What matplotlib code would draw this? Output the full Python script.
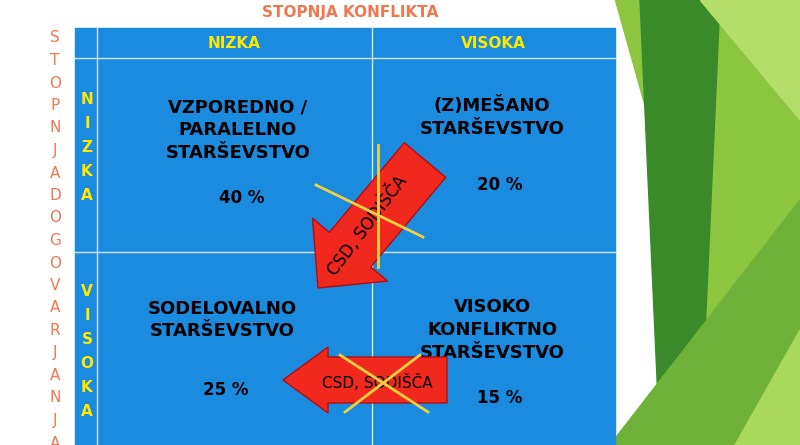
import matplotlib.pyplot as plt
from matplotlib.patches import Polygon, Rectangle
import numpy as np

# Podatki
title = 'STOPNJA KONFLIKTA'
col_labels = ['NIZKA', 'VISOKA']
row_labels = ['NIZKA', 'VISOKA']
side_title = 'STOPNJADOGOVARJANJA'
cell_names = [['VZPOREDNO /\nPARALELNO\nSTARŠEVSTVO', '(Z)MEŠANO\nSTARŠEVSTVO'],
              ['SODELOVALNO\nSTARŠEVSTVO', 'VISOKO\nKONFLIKTNO\nSTARŠEVSTVO']]
cell_pct = [[40, 20], [25, 15]]
arrow_text = 'CSD, SODIŠČA'

BLUE = '#1b8be0'
YELLOW = '#ffe800'
ORANGE = '#f07850'
RED = '#f0281e'

fig = plt.figure(figsize=(8, 4.45), dpi=100)
ax = fig.add_axes([0, 0, 1, 1])
ax.set_xlim(0, 800)
ax.set_ylim(445, 0)
ax.axis('off')

# zeleni okraski desno
greens = [
    ([(615, 0), (800, 0), (800, 445), (740, 445)], '#8cc63f'),
    ([(640, 0), (720, 0), (700, 445), (660, 445)], '#3a8a2a'),
    ([(700, 0), (800, 0), (800, 120)], '#b5dd6a'),
    ([(610, 445), (800, 200), (800, 445)], '#6fb23a'),
    ([(735, 445), (800, 330), (800, 445)], '#a9d85a'),
]
for pts, c in greens:
    ax.add_patch(Polygon(pts, closed=True, color=c, zorder=0))

# tabela
x0, x1, xm, xl = 75, 615, 372, 97
y0, yh, ym, y1 = 28, 58, 252, 445
ax.add_patch(Rectangle((x0, y0), x1 - x0, y1 - y0, color=BLUE, zorder=1))
lc = '#cfe6fb'
for y in [yh, ym]:
    ax.plot([x0, x1], [y, y], color=lc, lw=1, zorder=2)
ax.plot([xl, xl], [y0, y1], color=lc, lw=1, zorder=2)
ax.plot([xm, xm], [y0, y1], color=lc, lw=1, zorder=2)

ax.text(350, 13, title, color=ORANGE, fontsize=11, fontweight='bold', ha='center', va='center')
for lab, cx in zip(col_labels, [(xl + xm) / 2, (xm + x1) / 2]):
    ax.text(cx, 44, lab, color=YELLOW, fontsize=11, fontweight='bold', ha='center', va='center')

# navpični napisi
for i, ch in enumerate(side_title):
    ax.text(55, 38 + i * 22.5, ch, color=ORANGE, fontsize=11, ha='center', va='center')
for lab, ys in zip(row_labels, [100, 292]):
    for i, ch in enumerate(lab):
        ax.text(87, ys + i * 24, ch, color=YELLOW, fontsize=11, fontweight='bold', ha='center', va='center')

centers = [[(238, 130), (492, 117)], [(222, 320), (492, 330)]]
pct_y = [[198, 185], [390, 398]]
for r in range(2):
    for c in range(2):
        cx, cy = centers[r][c]
        ax.text(cx, cy, cell_names[r][c], fontsize=13, fontweight='bold', ha='center',
                va='center', linespacing=1.35, zorder=3)
        ax.text(cx + (4 if c == 0 else 8), pct_y[r][c], f'{cell_pct[r][c]} %', fontsize=12,
                fontweight='bold', ha='center', va='center', zorder=3)

def arrow(tail, tip, body=44, head=90, head_len=55):
    tail, tip = np.array(tail, float), np.array(tip, float)
    d = (tip - tail) / np.linalg.norm(tip - tail)
    n = np.array([-d[1], d[0]])
    base = tip - d * head_len
    pts = [tail + n * body / 2, base + n * body / 2, base + n * head / 2, tip,
           base - n * head / 2, base - n * body / 2, tail - n * body / 2]
    ax.add_patch(Polygon(pts, closed=True, facecolor=RED, edgecolor='#b01010', lw=1, zorder=4))

arrow((425, 160), (318, 288), body=54, head=98, head_len=50)
ax.text(367, 226, arrow_text, fontsize=12, rotation=53, ha='center', va='center', zorder=5)
ax.plot([316, 423], [185, 237], color='#f0d040', lw=2, zorder=6)
ax.plot([378, 378], [145, 267], color='#f0d040', lw=2, zorder=6)

arrow((447, 380), (283, 380), body=46, head=66, head_len=45)
ax.text(377, 382, arrow_text, fontsize=11, ha='center', va='center', zorder=5)
ax.plot([340, 428], [355, 412], color='#f0d040', lw=2, zorder=6)
ax.plot([345, 420], [412, 355], color='#f0d040', lw=2, zorder=6)

fig.savefig('out.png', dpi=100)
